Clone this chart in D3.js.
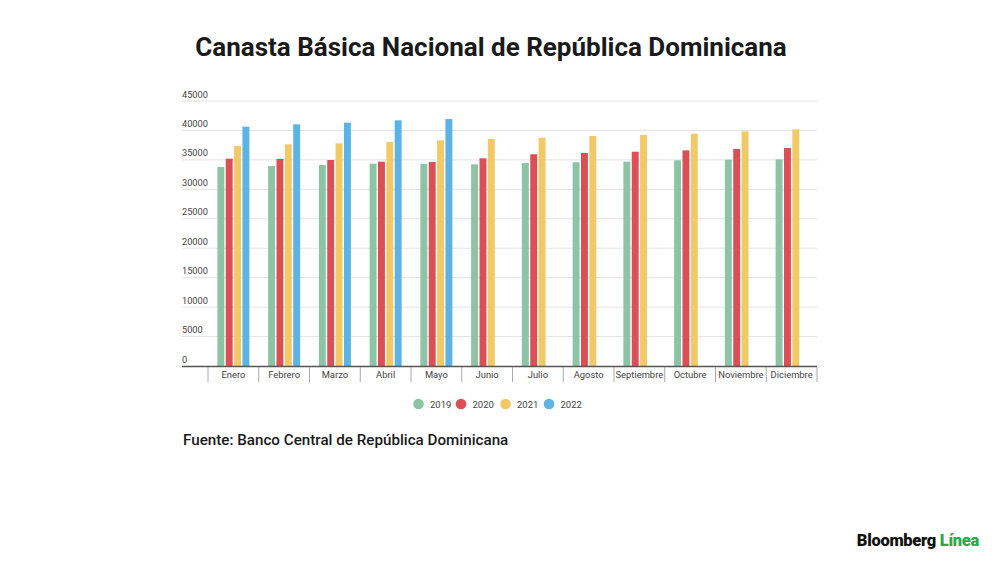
<!DOCTYPE html>
<html>
<head>
<meta charset="utf-8">
<script src="https://cdn.jsdelivr.net/npm/d3@7"></script>
<style>
  body { margin: 0; background: #fff; }
  svg { display: block; font-family: Roboto, "Noto Sans", sans-serif; }
</style>
</head>
<body>
<svg id="chart" width="1000" height="562"></svg>
<script>
// data
let months = ["Enero", "Febrero", "Marzo", "Abril", "Mayo", "Junio", "Julio",
    "Agosto", "Septiembre", "Octubre", "Noviembre", "Diciembre"];
let years = ["2019", "2020", "2021", "2022"];
let colors = ["#8cc4a5", "#dc4f56", "#f1c967", "#5cb4e4"];

let v2019 = [33800, 33950, 34130, 34350, 34300, 34250, 34470, 34590, 34700, 34930, 35040, 35100];
let v2020 = [35200, 35150, 34980, 34700, 34640, 35270, 35950, 36170, 36390, 36620, 36850, 37020];
let v2021 = [37360, 37650, 37810, 38040, 38320, 38550, 38770, 39060, 39220, 39450, 39850, 40190];
let v2022 = [40640, 41040, 41320, 41720, 41940];

let yTicks = [0, 5000, 10000, 15000, 20000, 25000, 30000, 35000, 40000, 45000];

let series = [v2019, v2020, v2021, v2022];

let svg = d3.select("#chart");

// title
svg.append("text")
    .attr("x", 491).attr("y", 56)
    .attr("text-anchor", "middle")
    .style("font-size", "26px").style("font-weight", "bold")
    .style("fill", "#1a1a1a")
    .text("Canasta Básica Nacional de República Dominicana");

let left = 182, right = 817, bandStart = 208;
let y = d3.scaleLinear().domain([0, 45000]).range([366, 101]);
let x = d3.scaleBand().domain(months).range([bandStart, right]).padding(0);
let xs = d3.scaleBand().domain(years).range([-16, 16]).paddingInner(0.17).paddingOuter(0);

// grid lines
svg.append("g").selectAll("line")
    .data(yTicks.filter(t => t > 0))
    .enter().append("line")
    .attr("x1", left).attr("x2", right)
    .attr("y1", d => y(d)).attr("y2", d => y(d))
    .style("stroke", "#e3e3e3").style("stroke-width", "1px");

// y labels sit just above their grid line
svg.append("g").selectAll("text")
    .data(yTicks)
    .enter().append("text")
    .attr("x", left).attr("y", d => y(d) - 3.5)
    .style("font-size", "9.2px").style("fill", "#444")
    .text(d => d);

// bars
series.forEach((vals, si) => {
    svg.append("g").selectAll("rect")
        .data(vals)
        .enter().append("rect")
        .attr("x", (d, i) => x(months[i]) + x.bandwidth() / 2 + xs(years[si]))
        .attr("width", xs.bandwidth())
        .attr("y", d => y(d))
        .attr("height", d => y(0) - y(d))
        .style("fill", colors[si]);
});

// x axis line and category dividers
svg.append("line")
    .attr("x1", left).attr("x2", right)
    .attr("y1", y(0) + 0.5).attr("y2", y(0) + 0.5)
    .style("stroke", "#555").style("stroke-width", "1.5px");

let dividers = months.map(m => x(m)).concat([right]);
svg.append("g").selectAll("line")
    .data(dividers)
    .enter().append("line")
    .attr("x1", d => d).attr("x2", d => d)
    .attr("y1", y(0) + 1).attr("y2", y(0) + 16)
    .style("stroke", "#aaa").style("stroke-width", "1px");

svg.append("g").selectAll("text")
    .data(months)
    .enter().append("text")
    .attr("x", d => x(d) + x.bandwidth() / 2)
    .attr("y", 377.5)
    .attr("text-anchor", "middle")
    .style("font-size", "9.4px").style("fill", "#444")
    .text(d => d);

// legend
let legendX = [418.5, 461, 505.5, 549];
let legend = svg.append("g").selectAll("g")
    .data(years)
    .enter().append("g")
    .attr("transform", (d, i) => "translate(" + legendX[i] + ",404)");
legend.append("circle").attr("r", 5.3).style("fill", (d, i) => colors[i]);
legend.append("text")
    .attr("x", 11.5).attr("y", 3.5)
    .style("font-size", "9.5px").style("fill", "#444")
    .text(d => d);

// source
svg.append("text")
    .attr("x", 183).attr("y", 445)
    .style("font-size", "15.2px").style("font-weight", "500")
    .style("fill", "#1a1a1a")
    .text("Fuente: Banco Central de República Dominicana");

// logo
let logo = svg.append("text")
    .attr("x", 979).attr("y", 546)
    .attr("text-anchor", "end")
    .style("font-size", "16.5px").style("font-weight", "900")
    .style("letter-spacing", "-0.3px");
logo.append("tspan").style("fill", "#111").text("Bloomberg ");
logo.append("tspan").style("fill", "#2ba84a").text("Línea");
</script>
</body>
</html>
